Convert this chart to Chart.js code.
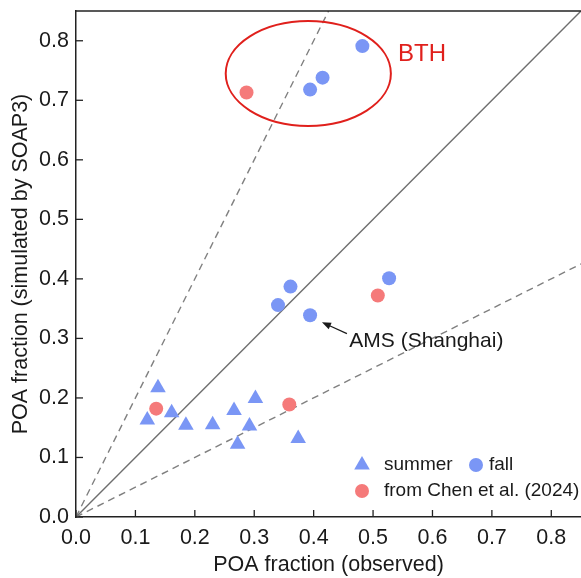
<!DOCTYPE html>
<html>
<head>
<meta charset="utf-8">
<script src="https://cdn.jsdelivr.net/npm/chart.js@4"></script>
<style>
  html,body{margin:0;padding:0;background:#fff;}
  canvas{display:block;}
</style>
</head>
<body>
<canvas id="chart" width="581" height="578"></canvas>
<script>
// observed vs simulated POA fraction
const summerX = [0.138, 0.120, 0.161, 0.185, 0.230, 0.266, 0.302, 0.292, 0.272, 0.374];
const summerY = [0.217, 0.163, 0.175, 0.154, 0.155, 0.179, 0.199, 0.153, 0.122, 0.132];
const fallX = [0.482, 0.415, 0.394, 0.361, 0.340, 0.394, 0.527];
const fallY = [0.791, 0.738, 0.718, 0.387, 0.356, 0.339, 0.401];
const chenX = [0.287, 0.508, 0.359, 0.135];
const chenY = [0.713, 0.372, 0.189, 0.182];
// reference lines 1:1, 2:1, 1:2
const line11 = [[0, 0], [0.85, 0.85]];
const line21 = [[0, 0], [0.425, 0.85]];
const line12 = [[0, 0], [0.85, 0.425]];
const tickVals = [0, 0.1, 0.2, 0.3, 0.4, 0.5, 0.6, 0.7, 0.8];
// BTH ellipse (center, radii in data units)
const bthEllipse = {cx: 0.391, cy: 0.745, rx: 0.139, ry: 0.088};

const BLUE = '#7a96f5', RED = '#f57a7a';
const FONT = "'Liberation Sans', Arial, sans-serif";
Chart.defaults.font.family = FONT;
Chart.defaults.color = '#1a1a1a';

const pts = (xs, ys) => xs.map((x, i) => ({x, y: ys[i]}));
const seg = a => a.map(p => ({x: p[0], y: p[1]}));

const extras = {
  id: 'extras',
  afterDatasetsDraw(chart){
    const {ctx, chartArea: a, scales: {x, y}} = chart;
    ctx.save();
    // top frame line
    ctx.strokeStyle = '#222'; ctx.lineWidth = 1.5;
    ctx.beginPath(); ctx.moveTo(a.left, a.top); ctx.lineTo(a.right, a.top); ctx.stroke();
    // inward ticks
    ctx.lineWidth = 1.3;
    tickVals.forEach(v => {
      const px = x.getPixelForValue(v), py = y.getPixelForValue(v);
      ctx.beginPath(); ctx.moveTo(px, a.bottom); ctx.lineTo(px, a.bottom - 7); ctx.stroke();
      ctx.beginPath(); ctx.moveTo(a.left, py); ctx.lineTo(a.left + 7, py); ctx.stroke();
    });
    // ellipse
    const e = bthEllipse;
    ctx.strokeStyle = '#e0201c'; ctx.lineWidth = 2;
    ctx.beginPath();
    ctx.ellipse(x.getPixelForValue(e.cx), y.getPixelForValue(e.cy),
      x.getPixelForValue(e.cx + e.rx) - x.getPixelForValue(e.cx),
      y.getPixelForValue(e.cy) - y.getPixelForValue(e.cy + e.ry), 0, 0, Math.PI * 2);
    ctx.stroke();
    ctx.fillStyle = '#e0201c';
    ctx.font = '24px ' + FONT; ctx.textBaseline = 'middle';
    ctx.fillText('BTH', x.getPixelForValue(0.542), y.getPixelForValue(0.777));
    // AMS annotation
    ctx.fillStyle = '#1a1a1a';
    ctx.font = '21px ' + FONT;
    ctx.fillText('AMS (Shanghai)', x.getPixelForValue(0.460), y.getPixelForValue(0.295));
    const tx = x.getPixelForValue(0.456), ty = y.getPixelForValue(0.308);
    const hx = x.getPixelForValue(0.414), hy = y.getPixelForValue(0.327);
    const ang = Math.atan2(hy - ty, hx - tx);
    ctx.strokeStyle = '#1a1a1a'; ctx.lineWidth = 1.2;
    ctx.beginPath(); ctx.moveTo(tx, ty); ctx.lineTo(hx - 6 * Math.cos(ang), hy - 6 * Math.sin(ang)); ctx.stroke();
    ctx.beginPath();
    ctx.moveTo(hx, hy);
    ctx.lineTo(hx - 9 * Math.cos(ang) + 3.5 * Math.sin(ang), hy - 9 * Math.sin(ang) - 3.5 * Math.cos(ang));
    ctx.lineTo(hx - 9 * Math.cos(ang) - 3.5 * Math.sin(ang), hy - 9 * Math.sin(ang) + 3.5 * Math.cos(ang));
    ctx.closePath(); ctx.fill();
    // legend
    ctx.font = '19px ' + FONT;
    const lx = 362, l1 = 465, l2 = 491;
    ctx.fillStyle = BLUE;
    ctx.beginPath();
    ctx.moveTo(lx, l1 - 9); ctx.lineTo(lx + 7.8, l1 + 4.5); ctx.lineTo(lx - 7.8, l1 + 4.5); ctx.closePath(); ctx.fill();
    ctx.beginPath(); ctx.arc(476, l1, 7, 0, Math.PI * 2); ctx.fill();
    ctx.fillStyle = RED;
    ctx.beginPath(); ctx.arc(lx, l2, 7, 0, Math.PI * 2); ctx.fill();
    ctx.fillStyle = '#1a1a1a';
    ctx.fillText('summer', 384, l1);
    ctx.fillText('fall', 489, l1);
    ctx.fillText('from Chen et al. (2024)', 384, l2);
    ctx.restore();
  }
};

const lineDs = (data, dash, color) => ({
  type: 'line', data: seg(data), borderColor: color, borderWidth: 1.4,
  borderDash: dash, pointRadius: 0, fill: false, order: 3
});

const noPad = s => { s.paddingLeft = 0; s.paddingRight = 0; s.paddingTop = 0; s.paddingBottom = 0; };

new Chart(document.getElementById('chart'), {
  type: 'scatter',
  data: {
    datasets: [
      {label: 'summer', data: pts(summerX, summerY), pointStyle: 'triangle', pointRadius: 9,
        backgroundColor: BLUE, borderWidth: 0, order: 1},
      {label: 'fall', data: pts(fallX, fallY), pointStyle: 'circle', pointRadius: 7,
        backgroundColor: BLUE, borderWidth: 0, order: 1},
      {label: 'from Chen et al. (2024)', data: pts(chenX, chenY), pointStyle: 'circle', pointRadius: 7,
        backgroundColor: RED, borderWidth: 0, order: 1},
      lineDs(line11, [], '#6e6e6e'),
      lineDs(line21, [7, 5], '#808080'),
      lineDs(line12, [7, 5], '#808080')
    ]
  },
  options: {
    responsive: false,
    animation: false,
    events: [],
    layout: {autoPadding: false, padding: {top: 11, right: 0, left: 0, bottom: 0}},
    plugins: {legend: {display: false}, tooltip: {enabled: false}},
    scales: {
      x: {
        type: 'linear', min: 0, max: 0.85,
        grid: {display: false, drawTicks: false},
        border: {display: true, color: '#222', width: 1.5},
        ticks: {stepSize: 0.1, includeBounds: false, padding: 8, font: {size: 21.5}, maxRotation: 0,
          callback: v => v.toFixed(1)},
        title: {display: true, text: 'POA fraction (observed)', font: {size: 21.5}, padding: {top: 0, bottom: 0}},
        afterFit: s => { s.height = 61; noPad(s); }
      },
      y: {
        type: 'linear', min: 0, max: 0.85,
        grid: {display: false, drawTicks: false},
        border: {display: true, color: '#222', width: 1.5},
        ticks: {stepSize: 0.1, includeBounds: false, padding: 7, font: {size: 21.5},
          callback: v => v.toFixed(1)},
        title: {display: true, text: 'POA fraction (simulated by SOAP3)', font: {size: 21.5}, padding: {top: 8, bottom: 0}},
        afterFit: s => { s.width = 76; noPad(s); }
      }
    }
  },
  plugins: [extras]
});
</script>
</body>
</html>
